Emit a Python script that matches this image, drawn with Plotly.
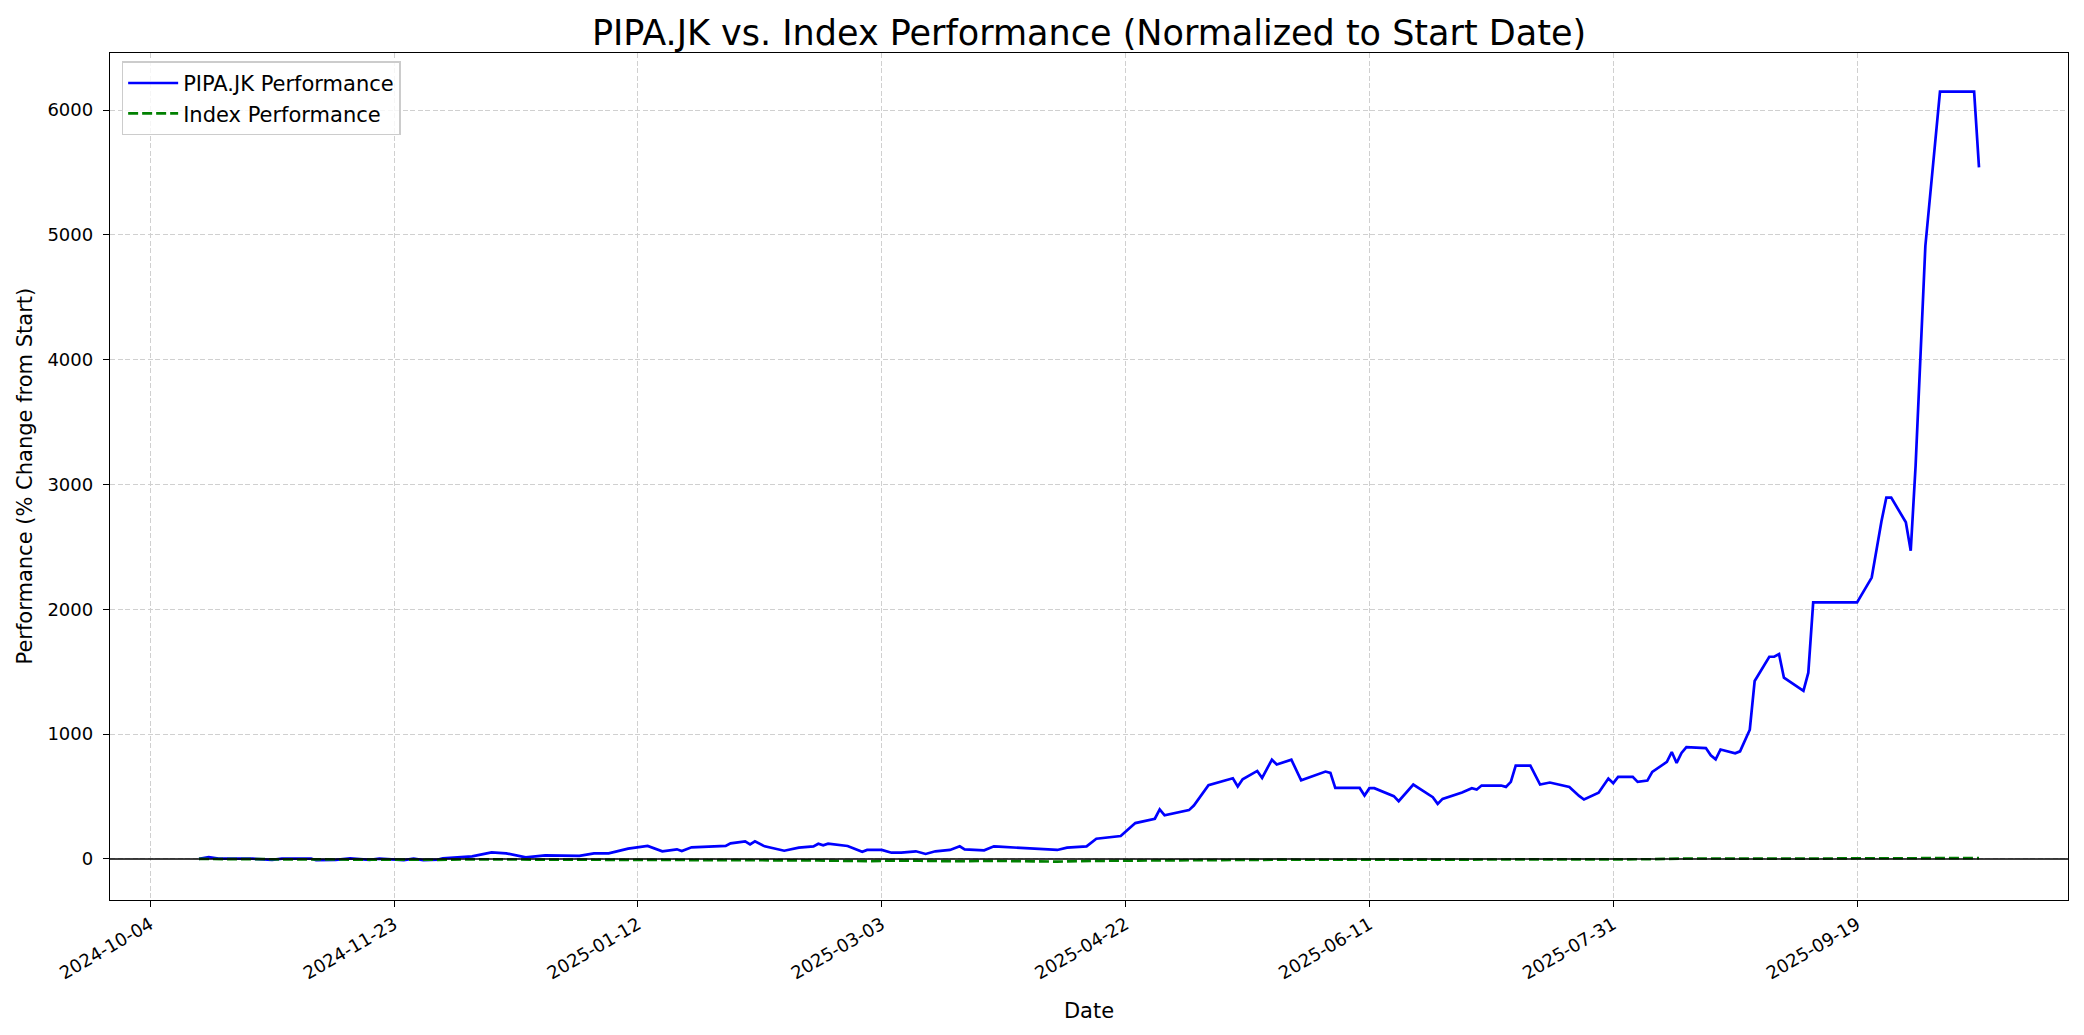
import plotly.graph_objects as go

# ---- data ----
pipa_dates = [
    "2024-10-14", "2024-10-16", "2024-10-18", "2024-10-25", "2024-10-29", "2024-10-31",
    "2024-11-06", "2024-11-07", "2024-11-11", "2024-11-13", "2024-11-14", "2024-11-18",
    "2024-11-20", "2024-11-25", "2024-11-27", "2024-11-29", "2024-12-02", "2024-12-03",
    "2024-12-09", "2024-12-13", "2024-12-16", "2024-12-20", "2024-12-24", "2024-12-31",
    "2025-01-03", "2025-01-06", "2025-01-10", "2025-01-14", "2025-01-17", "2025-01-20",
    "2025-01-21", "2025-01-23", "2025-01-30", "2025-01-31", "2025-02-03", "2025-02-04",
    "2025-02-05", "2025-02-07", "2025-02-11", "2025-02-14", "2025-02-17", "2025-02-18",
    "2025-02-19", "2025-02-20", "2025-02-24", "2025-02-27", "2025-02-28", "2025-03-03",
    "2025-03-05", "2025-03-07", "2025-03-10", "2025-03-12", "2025-03-14", "2025-03-17",
    "2025-03-19", "2025-03-20", "2025-03-24", "2025-03-26", "2025-03-27", "2025-04-08",
    "2025-04-10", "2025-04-14", "2025-04-16", "2025-04-21", "2025-04-24", "2025-04-28",
    "2025-04-29", "2025-04-30", "2025-05-05", "2025-05-06", "2025-05-09", "2025-05-14",
    "2025-05-15", "2025-05-16", "2025-05-19", "2025-05-20", "2025-05-22", "2025-05-23",
    "2025-05-26", "2025-05-28", "2025-06-02", "2025-06-03", "2025-06-04", "2025-06-09",
    "2025-06-10", "2025-06-11", "2025-06-12", "2025-06-16", "2025-06-17", "2025-06-20",
    "2025-06-24", "2025-06-25", "2025-06-26", "2025-06-30", "2025-07-02", "2025-07-03",
    "2025-07-04", "2025-07-08", "2025-07-09", "2025-07-10", "2025-07-11", "2025-07-14",
    "2025-07-16", "2025-07-18", "2025-07-22", "2025-07-24", "2025-07-25", "2025-07-28",
    "2025-07-30", "2025-07-31", "2025-08-01", "2025-08-04", "2025-08-05", "2025-08-07",
    "2025-08-08", "2025-08-11", "2025-08-12", "2025-08-13", "2025-08-14", "2025-08-15",
    "2025-08-19", "2025-08-20", "2025-08-21", "2025-08-22", "2025-08-25", "2025-08-26",
    "2025-08-27", "2025-08-28", "2025-08-29", "2025-09-01", "2025-09-02", "2025-09-03",
    "2025-09-04", "2025-09-08", "2025-09-09", "2025-09-10", "2025-09-19", "2025-09-22",
    "2025-09-24", "2025-09-25", "2025-09-26", "2025-09-29", "2025-09-30", "2025-10-01",
    "2025-10-03", "2025-10-06", "2025-10-13", "2025-10-14",
]
pipa_values = [
    0, 15, 3, 2, -8, 3,
    3, -10, -8, 0, 5, -8,
    2, -10, 3, -10, -5, 5,
    20, 53, 45, 12, 28, 25,
    45, 45, 82, 104, 61, 77,
    64, 93, 104, 125, 141, 117,
    141, 101, 66, 90, 101, 122,
    109, 122, 104, 58, 72, 72,
    50, 50, 61, 40, 61, 72,
    101, 77, 69, 101, 98, 72,
    90, 101, 162, 184, 287, 322,
    397, 349, 391, 428, 591, 646,
    580, 638, 705, 649, 795, 756,
    795, 630, 700, 689, 569, 569,
    508, 567, 567, 503, 463, 596,
    495, 441, 481, 532, 567, 556,
    588, 588, 577, 617, 748, 748,
    596, 612, 577, 505, 476, 530,
    644, 607, 657, 657, 617, 628,
    697, 777, 857, 769, 849, 896,
    888, 830, 798, 877, 846, 862,
    955, 1035, 1426, 1620, 1620, 1641,
    1452, 1346, 1492, 2055, 2055, 2254,
    2706, 2895, 2895, 2697, 2469, 3150,
    4911, 6148, 6148, 5541,
]

index_dates = [
    "2024-10-14", "2024-10-21", "2024-10-28", "2024-11-04", "2024-11-11", "2024-11-18",
    "2024-11-25", "2024-12-02", "2024-12-09", "2024-12-16", "2024-12-19", "2024-12-30",
    "2025-01-06", "2025-01-14", "2025-01-20", "2025-01-31", "2025-02-05", "2025-02-10",
    "2025-02-18", "2025-02-28", "2025-03-05", "2025-03-11", "2025-03-18", "2025-03-26",
    "2025-04-08", "2025-04-15", "2025-04-24", "2025-04-30", "2025-05-09", "2025-05-16",
    "2025-05-23", "2025-06-03", "2025-06-11", "2025-06-20", "2025-06-30", "2025-07-08",
    "2025-07-16", "2025-07-25", "2025-07-31", "2025-08-08", "2025-08-15", "2025-08-22",
    "2025-08-29", "2025-09-01", "2025-09-09", "2025-09-12", "2025-09-19", "2025-09-26",
    "2025-09-30", "2025-10-08", "2025-10-13", "2025-10-14",
]
index_values = [
    0, 0.8, -1.5, -3.5, -4.5, -6.5,
    -5.0, -6.8, -3.5, -4.0, -8.5, -7.2,
    -6.5, -7.5, -6.5, -6.8, -8.5, -12.8,
    -12.0, -17.8, -13.5, -14.5, -18.4, -15.0,
    -21.4, -15.5, -12.5, -11.2, -9.0, -7.0,
    -6.2, -6.5, -6.0, -9.4, -9.0, -8.5,
    -6.5, -2.0, -1.9, -2.5, 3.6, 2.5,
    2.7, 1.5, 0.0, 2.5, 5.6, 4.5,
    5.7, 8.2, 7.9, 5.8,
]

x_tick_vals = ["2024-10-04", "2024-11-23", "2025-01-12", "2025-03-03",
               "2025-04-22", "2025-06-11", "2025-07-31", "2025-09-19"]
y_tick_vals = [0, 1000, 2000, 3000, 4000, 5000, 6000]

FONT = "DejaVu Sans"
GRID = "#d0d0d0"

fig = go.Figure()
fig.add_trace(go.Scatter(
    x=pipa_dates, y=pipa_values, mode="lines", name="PIPA.JK Performance",
    line=dict(color="#0000ff", width=2.7),
))
fig.add_trace(go.Scatter(
    x=index_dates, y=index_values, mode="lines", name="Index Performance",
    line=dict(color="#008000", width=2.7, dash="10px,4px"),
))

fig.add_shape(type="line", xref="paper", x0=0, x1=1, yref="y", y0=0, y1=0,
              line=dict(color="black", width=1.4), layer="above")

axis_common = dict(
    showline=True, linecolor="black", linewidth=1.4, mirror=True,
    ticks="outside", ticklen=6, tickwidth=1.4, tickcolor="black",
    showgrid=True, gridcolor=GRID, gridwidth=1.4, griddash="5px,2.5px",
    zeroline=False, tickfont=dict(family=FONT, size=18, color="black"),
)

# page body has an 8px margin; the figure is sized/offset to compensate
fig.update_layout(
    width=2076, height=1027,
    margin=dict(l=102, r=16, t=45, b=135),
    paper_bgcolor="white", plot_bgcolor="white",
    font=dict(family=FONT, size=18, color="black"),
    title=dict(text="PIPA.JK vs. Index Performance (Normalized to Start Date)",
               x=0.5, xref="paper", xanchor="center", y=0.976, yanchor="middle",
               yref="container",
               font=dict(family=FONT, size=35, color="black")),
    xaxis=dict(
        type="date", range=["2024-09-25 18:00", "2025-11-01 06:00"],
        tickvals=x_tick_vals, ticktext=x_tick_vals, tickangle=-30,
        title=dict(text="Date", font=dict(family=FONT, size=21), standoff=20),
        **axis_common,
    ),
    yaxis=dict(
        range=[-329, 6457], tickvals=y_tick_vals,
        ticktext=[str(v) for v in y_tick_vals],
        ticklabelstandoff=6,
        **axis_common,
    ),
    annotations=[dict(
        text="Performance (% Change from Start)", textangle=-90,
        xref="paper", yref="paper", x=0, y=0.5, xanchor="center", yanchor="middle",
        xshift=-86, showarrow=False, font=dict(family=FONT, size=21, color="black"),
    )],
    legend=dict(x=0.006, y=0.99, xanchor="left", yanchor="top",
                bgcolor="rgba(255,255,255,0.8)", bordercolor="#cccccc", borderwidth=1.4,
                font=dict(family=FONT, size=21), tracegroupgap=0, itemwidth=50),
    showlegend=True,
)

fig.write_html("out.html")
